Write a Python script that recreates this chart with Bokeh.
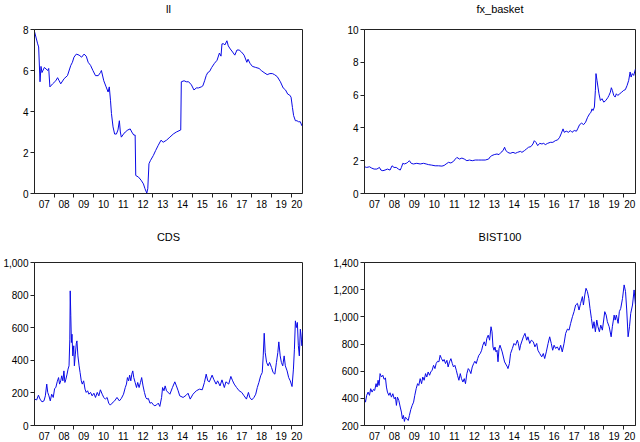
from bokeh.plotting import figure
from bokeh.layouts import gridplot
from bokeh.models import Range1d, FixedTicker, NumeralTickFormatter
from bokeh.embed import file_html
from bokeh.resources import INLINE

FONT = "Liberation Sans"
LINE_COLOR = "#0a0ae6"
FRAME_COLOR = "#222222"
X_START, X_END = 2007.0, 2020.58

# x axis: tick marks at year boundaries, labels centred inside each year
year_marks = [2008, 2009, 2010, 2011, 2012, 2013, 2014, 2015, 2016, 2017, 2018, 2019, 2020]
year_label_pos = [2007.5, 2008.5, 2009.5, 2010.5, 2011.5, 2012.5, 2013.5,
                  2014.5, 2015.5, 2016.5, 2017.5, 2018.5, 2019.5, 2020.29]
year_labels = ["07", "08", "09", "10", "11", "12", "13", "14", "15", "16", "17", "18", "19", "20"]

# ll
ll_dates = [2007.00, 2007.16, 2007.21, 2007.28, 2007.33, 2007.38, 2007.50, 2007.67, 2007.72, 2007.78,
            2007.92, 2008.08, 2008.17, 2008.25, 2008.33, 2008.50, 2008.67, 2008.84, 2008.92, 2009.00,
            2009.12, 2009.26, 2009.39, 2009.51, 2009.62, 2009.72, 2009.84, 2009.96, 2010.09, 2010.23,
            2010.34, 2010.39, 2010.51, 2010.63, 2010.73, 2010.79, 2010.85, 2010.90, 2010.98, 2011.06,
            2011.15, 2011.23, 2011.30, 2011.35, 2011.40, 2011.51, 2011.60, 2011.73, 2011.85, 2011.93,
            2012.03, 2012.10, 2012.13, 2012.27, 2012.40, 2012.52, 2012.60, 2012.69, 2012.74, 2012.80,
            2012.87, 2013.02, 2013.14, 2013.27, 2013.41, 2013.52, 2013.69, 2013.86, 2014.03, 2014.19,
            2014.41, 2014.44, 2014.58, 2014.69, 2014.81, 2014.95, 2015.08, 2015.20, 2015.31, 2015.45,
            2015.53, 2015.62, 2015.70, 2015.78, 2015.87, 2015.98, 2016.12, 2016.25, 2016.37, 2016.45,
            2016.50, 2016.59, 2016.65, 2016.75, 2016.82, 2016.92, 2017.04, 2017.15, 2017.26, 2017.37,
            2017.49, 2017.62, 2017.76, 2017.82, 2017.92, 2018.04, 2018.21, 2018.38, 2018.49, 2018.63,
            2018.79, 2018.93, 2019.05, 2019.16, 2019.30, 2019.46, 2019.60, 2019.72, 2019.83, 2019.93,
            2020.00, 2020.07, 2020.13, 2020.22, 2020.30, 2020.38, 2020.47, 2020.55]
ll_values = [7.9, 7.3, 7.15, 5.45, 6.2, 5.9, 6.15, 6.0, 6.1, 5.2,
             5.35, 5.5, 5.65, 5.5, 5.35, 5.6, 5.75, 6.25, 6.4, 6.65,
             6.8, 6.75, 6.65, 6.8, 6.7, 6.4, 6.25, 6.0, 5.75, 5.75,
             5.9, 6.0, 5.5, 5.2, 4.95, 5.2, 4.55, 3.9, 3.25, 2.9,
             2.9, 3.1, 3.55, 3.0, 2.75, 2.9, 3.0, 3.1, 3.15, 3.0,
             2.85, 2.85, 0.88, 0.8, 0.65, 0.47, 0.23, 0.02, 0.23, 1.45,
             1.6, 1.85, 2.1, 2.35, 2.6, 2.5, 2.6, 2.75, 2.9, 3.0,
             3.1, 5.45, 5.5, 5.45, 5.45, 5.3, 5.05, 5.15, 5.15, 5.2,
             5.25, 5.5, 5.75, 5.9, 5.95, 6.15, 6.35, 6.5, 6.85, 6.7,
             7.3, 7.3, 7.25, 7.45, 7.2, 7.05, 6.9, 6.75, 7.0, 7.0,
             6.9, 6.75, 6.4, 6.55, 6.35, 6.2, 6.15, 6.1, 6.0, 5.9,
             5.8, 5.85, 5.85, 5.8, 5.7, 5.45, 5.15, 5.05, 4.85, 4.8,
             4.7, 4.2, 3.8, 3.55, 3.55, 3.5, 3.5, 3.3]

# fx_basket
fx_dates = [2007.00, 2007.11, 2007.25, 2007.36, 2007.48, 2007.62, 2007.75, 2007.82, 2007.92, 2008.03,
            2008.15, 2008.28, 2008.38, 2008.48, 2008.59, 2008.70, 2008.79, 2008.85, 2008.92, 2008.99,
            2009.09, 2009.17, 2009.25, 2009.34, 2009.45, 2009.62, 2009.79, 2009.96, 2010.09, 2010.21,
            2010.37, 2010.54, 2010.71, 2010.88, 2010.99, 2011.09, 2011.21, 2011.33, 2011.46, 2011.55,
            2011.63, 2011.76, 2011.88, 2012.00, 2012.13, 2012.26, 2012.40, 2012.55, 2012.72, 2012.88,
            2013.05, 2013.22, 2013.30, 2013.38, 2013.50, 2013.64, 2013.74, 2013.84, 2013.94, 2014.02,
            2014.07, 2014.17, 2014.30, 2014.44, 2014.56, 2014.67, 2014.81, 2014.89, 2015.01, 2015.11,
            2015.22, 2015.34, 2015.44, 2015.51, 2015.59, 2015.68, 2015.78, 2015.89, 2015.98, 2016.06,
            2016.18, 2016.31, 2016.44, 2016.56, 2016.68, 2016.78, 2016.85, 2016.95, 2017.01, 2017.11,
            2017.23, 2017.31, 2017.40, 2017.51, 2017.62, 2017.68, 2017.78, 2017.88, 2017.98, 2018.08,
            2018.18, 2018.28, 2018.35, 2018.40, 2018.45, 2018.52, 2018.57, 2018.60, 2018.65, 2018.70,
            2018.75, 2018.82, 2018.90, 2018.99, 2019.09, 2019.19, 2019.25, 2019.32, 2019.37, 2019.42,
            2019.49, 2019.56, 2019.62, 2019.69, 2019.79, 2019.89, 2019.99, 2020.07, 2020.16, 2020.24,
            2020.31, 2020.36, 2020.42, 2020.49, 2020.58]
fx_values = [1.63, 1.59, 1.63, 1.55, 1.49, 1.49, 1.59, 1.43, 1.39, 1.43,
             1.49, 1.43, 1.69, 1.59, 1.59, 1.49, 1.43, 1.59, 1.84, 1.80,
             1.84, 1.90, 2.00, 1.84, 1.80, 1.84, 1.80, 1.84, 1.80, 1.76,
             1.73, 1.69, 1.69, 1.67, 1.71, 1.80, 1.90, 1.86, 1.96, 2.10,
             2.20, 2.10, 2.16, 2.10, 2.00, 2.04, 2.00, 2.04, 2.04, 2.04,
             2.04, 2.10, 2.24, 2.31, 2.37, 2.41, 2.37, 2.51, 2.61, 2.82,
             2.65, 2.51, 2.45, 2.51, 2.45, 2.51, 2.57, 2.51, 2.61, 2.71,
             2.82, 2.86, 3.02, 3.22, 3.12, 2.92, 3.06, 3.02, 3.06, 2.98,
             3.06, 3.12, 3.12, 3.22, 3.27, 3.43, 3.63, 3.94, 3.73, 3.80,
             3.73, 3.84, 3.73, 3.84, 3.80, 3.94, 4.20, 4.29, 4.20, 4.35,
             4.65, 4.86, 4.96, 5.16, 5.06, 5.27, 6.29, 7.31, 6.90, 6.49,
             6.08, 5.67, 5.78, 5.57, 5.67, 5.84, 5.98, 6.18, 6.45, 6.29,
             5.98, 5.88, 6.08, 5.98, 6.08, 6.18, 6.29, 6.33, 6.59, 6.90,
             7.41, 7.10, 7.31, 7.20, 7.60]

# CDS
cds_dates = [2007.00, 2007.11, 2007.20, 2007.28, 2007.38, 2007.48, 2007.55, 2007.62, 2007.67, 2007.73,
             2007.80, 2007.87, 2007.95, 2008.02, 2008.08, 2008.15, 2008.22, 2008.27, 2008.33, 2008.38,
             2008.44, 2008.49, 2008.54, 2008.59, 2008.65, 2008.70, 2008.75, 2008.79, 2008.81, 2008.84,
             2008.87, 2008.90, 2008.94, 2008.99, 2009.02, 2009.07, 2009.12, 2009.15, 2009.20, 2009.26,
             2009.31, 2009.37, 2009.42, 2009.49, 2009.56, 2009.62, 2009.69, 2009.76, 2009.84, 2009.92,
             2010.01, 2010.09, 2010.18, 2010.26, 2010.34, 2010.43, 2010.51, 2010.59, 2010.68, 2010.76,
             2010.84, 2010.93, 2011.06, 2011.18, 2011.30, 2011.40, 2011.51, 2011.60, 2011.66, 2011.71,
             2011.77, 2011.82, 2011.88, 2011.93, 2011.98, 2012.03, 2012.10, 2012.17, 2012.23, 2012.30,
             2012.37, 2012.43, 2012.50, 2012.57, 2012.64, 2012.70, 2012.77, 2012.85, 2012.94, 2013.02,
             2013.10, 2013.19, 2013.27, 2013.35, 2013.44, 2013.49, 2013.56, 2013.62, 2013.69, 2013.86,
             2013.99, 2014.11, 2014.19, 2014.28, 2014.36, 2014.53, 2014.69, 2014.78, 2014.89, 2015.03,
             2015.20, 2015.36, 2015.50, 2015.61, 2015.70, 2015.78, 2015.86, 2016.00, 2016.08, 2016.20,
             2016.28, 2016.40, 2016.50, 2016.62, 2016.70, 2016.84, 2016.95, 2017.04, 2017.12, 2017.24,
             2017.37, 2017.50, 2017.62, 2017.74, 2017.84, 2017.91, 2018.01, 2018.12, 2018.21, 2018.29,
             2018.37, 2018.46, 2018.54, 2018.59, 2018.64, 2018.69, 2018.76, 2018.84, 2018.91, 2019.01,
             2019.09, 2019.18, 2019.26, 2019.33, 2019.38, 2019.45, 2019.51, 2019.58, 2019.65, 2019.71,
             2019.80, 2019.88, 2019.96, 2020.05, 2020.12, 2020.17, 2020.22, 2020.27, 2020.32, 2020.37,
             2020.42, 2020.47, 2020.52, 2020.55, 2020.58]
cds_values = [162, 157, 186, 162, 145, 151, 182, 254, 203, 182,
              151, 192, 172, 227, 233, 268, 294, 254, 274, 305,
              274, 335, 264, 284, 315, 346, 366, 530, 826, 673,
              509, 560, 427, 489, 366, 438, 505, 519, 427, 366,
              325, 274, 254, 274, 223, 203, 213, 192, 203, 182,
              198, 172, 203, 182, 219, 192, 172, 162, 172, 137,
              125, 137, 151, 172, 151, 166, 192, 233, 254, 294,
              274, 309, 274, 315, 335, 294, 264, 233, 264, 233,
              264, 294, 243, 203, 172, 162, 166, 137, 141, 127,
              121, 127, 137, 117, 172, 233, 213, 243, 213, 192,
              233, 268, 243, 213, 182, 172, 186, 198, 162, 192,
              213, 223, 219, 264, 315, 274, 268, 309, 284, 254,
              274, 243, 280, 233, 268, 254, 301, 274, 254, 233,
              213, 203, 182, 162, 203, 172, 157, 172, 192, 233,
              264, 305, 325, 427, 566, 448, 387, 366, 387, 356,
              325, 315, 387, 448, 513, 427, 387, 366, 427, 366,
              335, 294, 274, 239, 346, 468, 642, 601, 632, 489,
              427, 591, 530, 489, 581]

# BIST100
bist_dates = [2007.00, 2007.05, 2007.11, 2007.18, 2007.25, 2007.31, 2007.38, 2007.45, 2007.51, 2007.58,
              2007.63, 2007.68, 2007.73, 2007.78, 2007.85, 2007.92, 2007.98, 2008.05, 2008.10, 2008.15,
              2008.22, 2008.28, 2008.35, 2008.42, 2008.49, 2008.55, 2008.60, 2008.65, 2008.72, 2008.79,
              2008.85, 2008.90, 2008.95, 2009.00, 2009.05, 2009.12, 2009.19, 2009.25, 2009.32, 2009.39,
              2009.46, 2009.52, 2009.59, 2009.66, 2009.72, 2009.79, 2009.86, 2009.92, 2009.99, 2010.06,
              2010.12, 2010.19, 2010.26, 2010.32, 2010.39, 2010.46, 2010.53, 2010.59, 2010.66, 2010.73,
              2010.79, 2010.86, 2010.93, 2010.99, 2011.06, 2011.13, 2011.19, 2011.26, 2011.33, 2011.40,
              2011.46, 2011.53, 2011.60, 2011.66, 2011.73, 2011.80, 2011.86, 2011.93, 2012.00, 2012.06,
              2012.13, 2012.20, 2012.26, 2012.33, 2012.40, 2012.47, 2012.53, 2012.60, 2012.67, 2012.73,
              2012.80, 2012.87, 2012.93, 2013.00, 2013.07, 2013.13, 2013.20, 2013.27, 2013.34, 2013.39,
              2013.44, 2013.49, 2013.54, 2013.59, 2013.64, 2013.69, 2013.74, 2013.79, 2013.90, 2014.02,
              2014.16, 2014.19, 2014.26, 2014.32, 2014.41, 2014.49, 2014.57, 2014.66, 2014.71, 2014.77,
              2014.82, 2014.96, 2015.04, 2015.13, 2015.19, 2015.28, 2015.36, 2015.46, 2015.54, 2015.63,
              2015.69, 2015.78, 2015.88, 2015.96, 2016.03, 2016.11, 2016.20, 2016.28, 2016.36, 2016.43,
              2016.50, 2016.58, 2016.66, 2016.75, 2016.83, 2016.91, 2017.00, 2017.08, 2017.17, 2017.25,
              2017.33, 2017.42, 2017.50, 2017.58, 2017.67, 2017.75, 2017.83, 2017.92, 2017.97, 2018.04,
              2018.10, 2018.17, 2018.24, 2018.30, 2018.37, 2018.44, 2018.50, 2018.57, 2018.64, 2018.70,
              2018.77, 2018.84, 2018.92, 2019.04, 2019.11, 2019.17, 2019.26, 2019.36, 2019.42, 2019.51,
              2019.56, 2019.62, 2019.71, 2019.77, 2019.84, 2019.93, 2020.01, 2020.08, 2020.14, 2020.21,
              2020.28, 2020.34, 2020.43, 2020.51, 2020.58]
bist_values = [397, 372, 422, 446, 422, 471, 446, 466, 458, 508,
               483, 533, 495, 582, 557, 570, 540, 550, 483, 446,
               422, 441, 409, 434, 397, 409, 348, 409, 384, 336,
               299, 249, 274, 230, 261, 249, 237, 274, 318, 348,
               372, 422, 471, 508, 495, 545, 508, 557, 533, 582,
               557, 594, 570, 594, 607, 643, 619, 656, 673, 669,
               717, 692, 673, 686, 656, 680, 631, 669, 692, 656,
               631, 643, 607, 570, 533, 582, 545, 520, 545, 508,
               582, 619, 607, 582, 631, 656, 673, 656, 692, 717,
               730, 754, 791, 816, 785, 841, 865, 828, 927, 890,
               778, 754, 778, 742, 754, 669, 766, 791, 742, 668,
               631, 619, 656, 730, 767, 804, 791, 828, 804, 754,
               791, 853, 878, 828, 853, 804, 828, 816, 779, 804,
               754, 730, 705, 730, 693, 742, 804, 853, 804, 754,
               791, 767, 779, 754, 791, 742, 804, 878, 910, 902,
               952, 1001, 1038, 1087, 1099, 1050, 1099, 1149, 1087, 1161,
               1210, 1186, 1136, 1062, 989, 915, 964, 890, 976, 927,
               890, 939, 902, 1038, 1013, 964, 927, 853, 927, 1013,
               976, 1013, 952, 1038, 1062, 1136, 1235, 1186, 1050, 853,
               927, 1025, 1087, 1198, 1087]


def make_panel(title, dates, values, y_start, y_end, y_ticks, width, height,
               left, right, top, bottom, title_standoff, comma=False):
    p = figure(width=width, height=height, output_backend="svg", toolbar_location=None,
               x_range=Range1d(X_START, X_END), y_range=Range1d(y_start, y_end),
               min_border_left=left, min_border_right=right,
               min_border_top=top, min_border_bottom=bottom)
    p.line(dates, values, line_color=LINE_COLOR, line_width=1)

    # a blank second line makes the title box taller, so the text sits
    # high in the top border, as in the EViews graph
    p.title.text = title + "\n"
    p.title.text_font = FONT
    p.title.text_font_size = "11px"
    p.title.text_font_style = "normal"
    p.title.text_color = "#000000"
    p.title.align = "center"
    p.title.vertical_align = "top"
    p.title.standoff = title_standoff

    p.xgrid.visible = False
    p.ygrid.visible = False
    p.outline_line_color = FRAME_COLOR
    p.outline_line_alpha = 1.0

    for ax in (p.xaxis[0], p.yaxis[0]):
        ax.axis_line_color = FRAME_COLOR
        ax.major_tick_line_color = FRAME_COLOR
        ax.minor_tick_line_color = FRAME_COLOR
        ax.major_label_text_font = FONT
        ax.major_label_text_font_size = "10px"
        ax.major_label_text_color = "#000000"

    xa = p.xaxis[0]
    xa.ticker = FixedTicker(ticks=year_label_pos, minor_ticks=year_marks)
    xa.major_label_overrides = dict(zip(year_label_pos, year_labels))
    xa.major_tick_out = 0
    xa.major_tick_in = 0
    xa.minor_tick_out = 4
    xa.minor_tick_in = 0
    xa.major_label_standoff = 2

    ya = p.yaxis[0]
    ya.ticker = FixedTicker(ticks=y_ticks)
    ya.major_tick_out = 4
    ya.major_tick_in = 0
    ya.minor_tick_line_color = None
    ya.major_label_standoff = 2
    if comma:
        ya.formatter = NumeralTickFormatter(format="0,0")
    return p


p1 = make_panel("ll", ll_dates, ll_values, 0, 8, [0, 2, 4, 6, 8],
                320, 221, 31, 18, 29, 28, 1)
p2 = make_panel("fx_basket", fx_dates, fx_values, 0, 10, [0, 2, 4, 6, 8, 10],
                320, 221, 44, 5, 29, 28, 1)
p3 = make_panel("CDS", cds_dates, cds_values, 0, 1000, [0, 200, 400, 600, 800, 1000],
                320, 221, 31, 18, 41, 17, 12, comma=True)
p4 = make_panel("BIST100", bist_dates, bist_values, 200, 1400, [200, 400, 600, 800, 1000, 1200, 1400],
                320, 221, 44, 5, 41, 17, 12, comma=True)

grid = gridplot([[p1, p2], [p3, p4]], toolbar_location=None)

open("out.html", "w").write(file_html(grid, INLINE))
